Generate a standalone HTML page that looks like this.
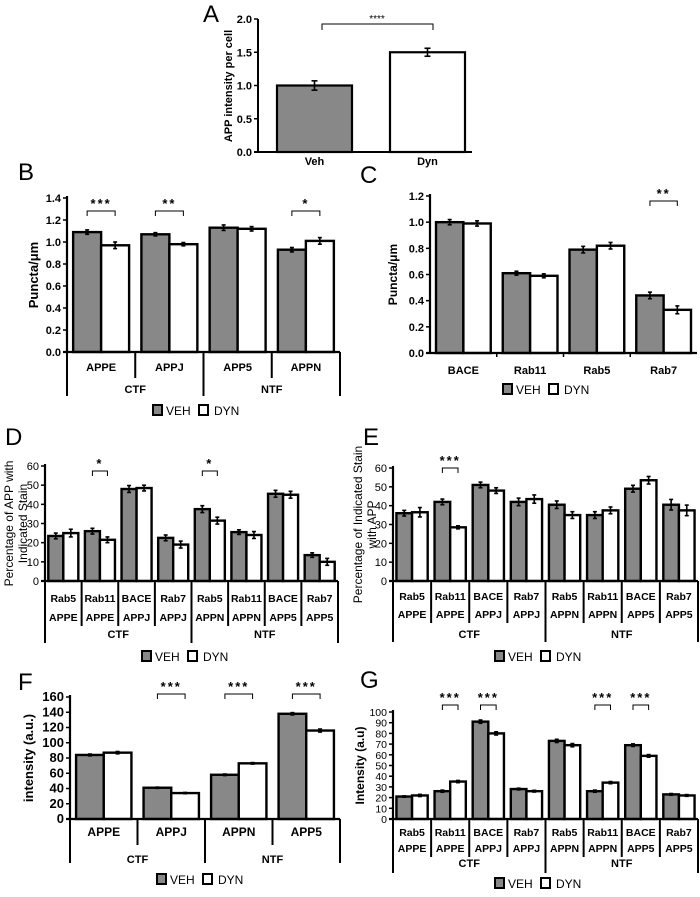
<!DOCTYPE html>
<html><head><meta charset="utf-8"><style>
body{margin:0;background:#fff}
svg{display:block;font-family:"Liberation Sans",Arial,sans-serif}
</style></head><body>
<svg id="fig" width="700" height="897" viewBox="0 0 700 897"></svg>
<script>
// ---- Data ----
const catsA=["Veh","Dyn"], valsA=[1.0,1.5], errA=[0.07,0.06];
const catsB=["APPE","APPJ","APP5","APPN"];
const vehB=[1.09,1.07,1.13,0.93], dynB=[0.97,0.98,1.12,1.01];
const errVehB=[0.02,0.015,0.025,0.02], errDynB=[0.03,0.015,0.02,0.03];
const ticksB=["0.0","0.2","0.4","0.6","0.8","1.0","1.2","1.4"];
const catsC=["BACE","Rab11","Rab5","Rab7"];
const vehC=[1.0,0.61,0.79,0.44], dynC=[0.99,0.59,0.82,0.33];
const errVehC=[0.02,0.015,0.025,0.025], errDynC=[0.02,0.015,0.025,0.03];
const ticksC=["0.0","0.2","0.4","0.6","0.8","1.0","1.2"];
const row1DE=["Rab5","Rab11","BACE","Rab7","Rab5","Rab11","BACE","Rab7"];
const row2DE=["APPE","APPE","APPJ","APPJ","APPN","APPN","APP5","APP5"];
const vehD=[23.5,26,48,22.5,37.5,25.5,45.5,13.5], dynD=[25,21.5,48.5,19,31.5,24,45,10];
const errVehD=[1.5,1.5,1.8,1.5,1.8,1.2,1.8,1.2], errDynD=[2,1.5,1.5,1.8,1.8,1.8,1.8,1.8];
const vehE=[36,42,51,42,40.5,35,49,40.5], dynE=[36.5,28.5,48,43.5,35,37.5,53.5,37.5];
const errVehE=[1.5,1.5,1.5,2,2,1.8,1.8,2.8], errDynE=[2.5,0.8,1.5,2.2,1.8,1.8,2,2.8];
const ticks60=["0","10","20","30","40","50","60"];
const catsF=["APPE","APPJ","APPN","APP5"];
const vehF=[84,41,58,138], dynF=[87,34,73,116];
const errVehF=[1.2,0.8,1,1.5], errDynF=[1.5,0.8,1,2];
const ticksF=["0","20","40","60","80","100","120","140","160"];
const vehG=[21,26,91,28,73,26,69,23], dynG=[22,35,80,26,69,34,59,22];
const errVehG=[0.6,1,1.5,0.8,1.5,1,1.2,0.8], errDynG=[1,1,1.5,0.8,1.5,1,1.2,0.8];
const ticksG=["0","10","20","30","40","50","60","70","80","90","100"];
const groups=["CTF","NTF"];

const NS="http://www.w3.org/2000/svg", svg=document.getElementById('fig');
function el(tag,attrs,parent,text){const e=document.createElementNS(NS,tag);for(const k in attrs)e.setAttribute(k,attrs[k]);if(text!==undefined)e.textContent=text;(parent||svg).appendChild(e);return e;}
function line(x1,y1,x2,y2,g,w){return el('line',{x1,y1,x2,y2,stroke:'#000','stroke-width':w||1.2},g);}
function txt(x,y,s,g,o){o=o||{};const t=el('text',{x,y,'font-size':o.fs||11,'font-weight':o.fw||'normal','text-anchor':o.anchor||'middle',fill:'#000'},g,s);if(o.rot)t.setAttribute('transform','rotate(-90 '+x+' '+y+')');return t;}

function panel(o){
  const g=el('g',{});
  
  
  const max=o.max, n=o.veh.length;
  const Y=v=>o.y0-(v/max)*(o.y0-o.yTop);
  const cw=(o.x1-o.x0)/n;
  const X=i=>o.x0+i*cw;
  const bw=cw*0.41, off=cw*0.09;
  o.ticks.forEach((t,k)=>{const v=k*max/(o.ticks.length-1);
    line(o.x0-4,Y(v),o.x0,Y(v),g,1.5);
    const tl=txt(o.x0-6,Y(v)+4,t,g,{anchor:'end',fs:o.tfs||11,fw:o.tfw||'bold'});
    
    
  });
  for(let i=0;i<n;i++){
    [[o.veh,o.ev,'#888','veh'],[o.dyn,o.ed,'#fff','dyn']].forEach((s,j)=>{
      const bx=X(i)+off+j*bw, v=s[0][i], e=s[1][i];
      const r=el('rect',{x:bx,y:Y(v),width:bw,height:o.y0-Y(v),fill:s[2],stroke:'#000','stroke-width':2.4},g);
      
      
      const cx=bx+bw/2;
      line(cx,Y(v+e),cx,Y(v-e),g,1.6);line(cx-2,Y(v+e),cx+2,Y(v+e),g,1.6);line(cx-2,Y(v-e),cx+2,Y(v-e),g,1.6);
    });
  }
  line(o.x0,o.yTop-2,o.x0,o.y0,g,2.2);
  line(o.x0-4,o.y0,o.x1,o.y0,g,2.2);
  if(o.rows){
    o.rows.forEach((r,k)=>r.forEach((s,i)=>{const t=txt(X(i)+cw/2,o.rowY[k],s,g,{fw:'bold',fs:o.cfs||11});
      
      }));
  }
  if(o.sepEnd){
    for(let i=0;i<=n;i++){const grp=(i%(n/2)===0);line(X(i),o.y0,X(i),grp?o.grpEnd:o.sepEnd,g,2);}
    groups.forEach((s,k)=>{const t=txt(o.x0+(k+0.5)*(o.x1-o.x0)/2,o.grpY,s,g,{fw:'bold',fs:11});
      
      });
  } else {
    for(let i=1;i<n;i++)line(X(i),o.y0,X(i),o.y0+4,g,1.5);
  }
  (o.sig||[]).forEach(sg=>{const a=X(sg[0])+off+bw/2,b=a+bw;
    el('path',{d:`M${a} ${o.sigY+5}V${o.sigY}H${b}V${o.sigY+5}`,fill:'none',stroke:'#000','stroke-width':1},g);
    const t=txt((a+b)/2,o.sigY-3,sg[1],g,{fs:13,fw:'bold'});
    t.setAttribute('letter-spacing','2');
    
    
  });
  o.title.forEach((s,k)=>{const t=txt(o.titleX+k*(o.titleGap||14),(o.yTop+o.y0)/2,s,g,{rot:true,fw:o.titleFw||'bold',fs:o.titleFs||12});
    
    });
  const L=txt(o.letter[1],o.letter[2],o.letter[0],g,{anchor:'start',fs:24});
  
  
  const lg=el('g',{},g);
  
  
  const lx=o.legX, ly=o.legY;
  el('rect',{x:lx,y:ly-10,width:9,height:10,fill:'#888',stroke:'#000','stroke-width':2},lg);
  txt(lx+13,ly,'VEH',lg,{anchor:'start',fs:12});
  el('rect',{x:lx+46,y:ly-10,width:9,height:10,fill:'#fff',stroke:'#000','stroke-width':2},lg);
  txt(lx+61,ly,'DYN',lg,{anchor:'start',fs:12});
}

(function(){
  const g=el('g',{});
  
  
  const x0=258,y0=152,yT=19,max=2.0;const Y=v=>y0-v/max*(y0-yT);
  ["0.0","0.5","1.0","1.5","2.0"].forEach((t,k)=>{const v=k*0.5;line(x0-4,Y(v),x0,Y(v),g,1.5);txt(x0-6,Y(v)+4,t,g,{anchor:'end',fw:'bold'});});
  const bxs=[277,390], fills=['#888','#fff'];
  catsA.forEach((c,i)=>{const v=valsA[i],e=errA[i];
    const r=el('rect',{x:bxs[i],y:Y(v),width:75,height:y0-Y(v),fill:fills[i],stroke:'#000','stroke-width':2.2},g);
    
    
    const cx=bxs[i]+37.5;line(cx,Y(v+e),cx,Y(v-e),g,1.6);line(cx-3,Y(v+e),cx+3,Y(v+e),g,1.6);line(cx-3,Y(v-e),cx+3,Y(v-e),g,1.6);
    txt(cx,165,c,g,{fw:'bold'});
  });
  line(x0,yT,x0,y0,g,2);line(x0-4,y0,472,y0,g,2);
  el('path',{d:'M322 30V24H433V30',fill:'none',stroke:'#000','stroke-width':1},g);
  txt(377,22,'****',g,{fs:10});
  txt(232,86,'APP intensity per cell',g,{rot:true,fw:'bold',fs:11});
  txt(203,22,'A',g,{anchor:'start',fs:24});
})();

panel({name:'panel-b',x0:67,x1:340,y0:352,yTop:198,max:1.4,ticks:ticksB,veh:vehB,dyn:dynB,ev:errVehB,ed:errDynB,
  rows:[catsB],rowY:[371],sepEnd:378,grpEnd:396,grpY:393,sig:[[0,'***'],[1,'**'],[3,'*']],sigY:211,
  title:['Puncta/μm'],titleX:38,titleFs:13,letter:['B',18,180],legX:153,legY:415});
panel({name:'panel-c',x0:430,x1:697,y0:353,yTop:196,max:1.2,ticks:ticksC,veh:vehC,dyn:dynC,ev:errVehC,ed:errDynC,
  rows:[catsC],rowY:[374],sig:[[3,'**']],sigY:201,
  title:['Puncta/μm'],titleX:397,letter:['C',360,183],legX:503,legY:394});
panel({name:'panel-d',x0:45,x1:338,y0:581,yTop:466,max:60,ticks:ticks60,tfw:'normal',veh:vehD,dyn:dynD,ev:errVehD,ed:errDynD,
  rows:[row1DE,row2DE],rowY:[602,621],sepEnd:626,grpEnd:643,grpY:638,cfs:10.5,sig:[[1,'*'],[4,'*']],sigY:471,
  title:['Percentage of APP with','Indicated Stain'],titleX:13,titleGap:14,titleFs:12,titleFw:'normal',letter:['D',5,445],legX:142,legY:661});
panel({name:'panel-e',x0:393,x1:698,y0:581,yTop:468,max:60,ticks:ticks60,tfw:'normal',veh:vehE,dyn:dynE,ev:errVehE,ed:errDynE,
  rows:[row1DE,row2DE],rowY:[600,618],sepEnd:623,grpEnd:642,grpY:638,cfs:10.5,sig:[[1,'***']],sigY:468,
  title:['Percentage of Indicated Stain','with APP'],titleX:362,titleGap:14,titleFs:12,titleFw:'normal',letter:['E',363,445],legX:495,legY:661});
panel({name:'panel-f',x0:70,x1:340,y0:819,yTop:697,max:160,ticks:ticksF,tfs:13,veh:vehF,dyn:dynF,ev:errVehF,ed:errDynF,
  rows:[catsF],rowY:[836],sepEnd:845,grpEnd:863,grpY:863,cfs:12,sig:[[1,'***'],[2,'***'],[3,'***']],sigY:694,
  title:['intensity (a.u.)'],titleX:33,titleFs:13,letter:['F',18,690],legX:157,legY:884});
panel({name:'panel-g',x0:393,x1:698,y0:819,yTop:712,max:100,ticks:ticksG,tfw:'normal',tfs:10.5,veh:vehG,dyn:dynG,ev:errVehG,ed:errDynG,
  rows:[row1DE,row2DE],rowY:[836,852],sepEnd:857,grpEnd:873,grpY:867,cfs:10.5,sig:[[1,'***'],[2,'***'],[5,'***'],[6,'***']],sigY:705,
  title:['Intensity (a.u)'],titleX:364,titleFs:12,letter:['G',360,688],legX:495,legY:888});
</script>
</body></html>
